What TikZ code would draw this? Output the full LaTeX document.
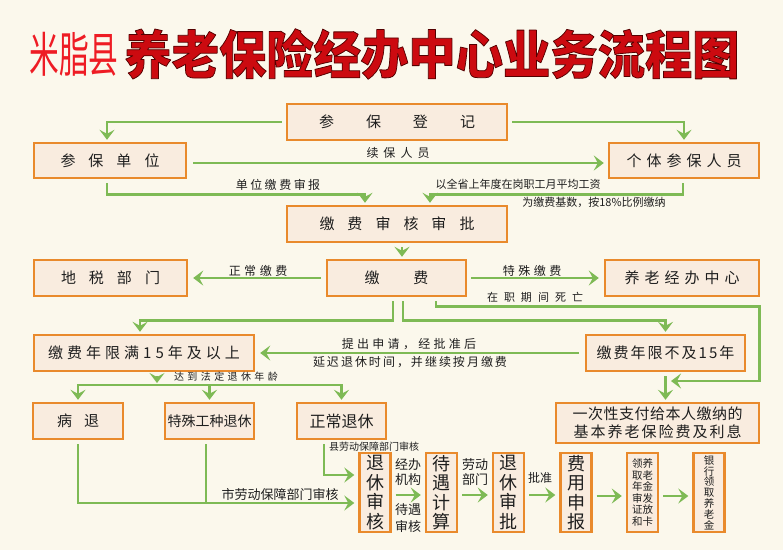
\documentclass[tikz,border=0pt]{standalone}
\usepackage{fontspec}
\setmainfont{Noto Sans CJK SC}
\newfontfamily\heavy{Noto Sans CJK SC}[BoldFeatures={FakeBold=1.5}]
\usetikzlibrary{arrows.meta}
\definecolor{bgc}{HTML}{FBF8EC}
\definecolor{boxfill}{HTML}{F9ECDF}
\definecolor{boxline}{HTML}{E98A2C}
\definecolor{grn}{HTML}{7EBA55}
\definecolor{txt}{HTML}{1E1E1E}
\definecolor{titlered}{HTML}{EE1C24}
\definecolor{titledark}{HTML}{CC0A10}
\makeatletter
\newcommand\LSp[2]{\begingroup\let\lsp@sep\relax\@tfor\lsp@c:=#2\do{\lsp@sep\lsp@c\def\lsp@sep{\kern#1}}\endgroup}
\makeatother
\newcommand\fs[2]{\fontsize{#1pt}{#2pt}\selectfont}
\newcommand\outlined[1]{\textcolor{titledark}{\special{pdf:literal direct 0.33 0 0 RG 2 Tr 2.2 w 1 j}#1\special{pdf:literal direct 0 Tr}}}
\tikzset{
  box/.style={draw=boxline, fill=boxfill, line width=2.4pt, inner sep=0pt, text=txt, font=\fs{15}{18}},
  vbox/.style={box, minimum width=31pt, minimum height=79pt, align=center, font=\fs{18}{19.5}},
  arr/.style={draw=grn, line width=2.6pt, -{Stealth[length=10pt,width=15pt,inset=4pt]}},
  ln/.style={draw=grn, line width=2.6pt},
  lab/.style={text=txt, inner sep=0pt, font=\fs{12}{14}},
}
\begin{document}
\begin{tikzpicture}[x=1pt,y=-1pt]
\fill[bgc] (0,0) rectangle (783,550);
\useasboundingbox (0,0) rectangle (783,550);

% title
\node[inner sep=0pt, text=titlered, font=\fs{48}{50}] (t1) at (74,54.5) {\scalebox{0.62}[1]{米脂县}};
\node[inner sep=0pt, font=\heavy\bfseries\fs{52}{54}] (t2) at (432,54) {\scalebox{0.91}[1]{\outlined{养老保险经办中心业务流程图}}};

% boxes
\node[box, minimum width=220pt, minimum height=36pt] (reg) at (397,122) {\LSp{32pt}{参保登记}};
\node[box, minimum width=152pt, minimum height=35pt] (unit) at (110,160.5) {\LSp{13pt}{参保单位}};
\node[box, minimum width=150pt, minimum height=35pt] (indiv) at (684,160.5) {\LSp{5pt}{个体参保人员}};
\node[box, minimum width=220pt, minimum height=36pt] (audit) at (397,224) {\LSp{13pt}{缴费审核审批}};
\node[box, minimum width=139pt, minimum height=36pt] (pay) at (396.5,278) {\LSp{34pt}{缴费}};
\node[box, minimum width=153pt, minimum height=36pt] (tax) at (110.5,278) {\LSp{13pt}{地税部门}};
\node[box, minimum width=154pt, minimum height=36pt] (center) at (682,278) {\LSp{5pt}{养老经办中心}};
\node[box, minimum width=220pt, minimum height=36pt] (full) at (144,353) {\LSp{4pt}{缴费年限满15年及以上}};
\node[box, minimum width=159pt, minimum height=36pt] (less) at (665.5,353) {\LSp{2pt}{缴费年限不及15年}};
\node[box, minimum width=203pt, minimum height=40pt, align=center, font=\fs{15}{18}] (lump) at (657.5,423) {\LSp{0.5pt}{一次性支付给本人缴纳的}\\\LSp{2pt}{基本养老保险费及利息}};
\node[box, minimum width=90pt, minimum height=36pt] (sick) at (78,421) {\LSp{12pt}{病退}};
\node[box, minimum width=89pt, minimum height=36pt, font=\fs{14}{16}] (special) at (209.5,421) {特殊工种退休};
\node[box, minimum width=89pt, minimum height=36pt, font=\fs{16}{18}] (normal) at (341.5,421) {正常退休};
\node[vbox] (v1) at (375,492.5) {退\\休\\审\\核};
\node[vbox] (v2) at (441.5,492.5) {待\\遇\\计\\算};
\node[vbox] (v3) at (508.5,492.5) {退\\休\\审\\批};
\node[vbox] (v4) at (576,492.5) {费\\用\\申\\报};
\node[vbox, font=\fs{10.5}{11.6}] (v5) at (642.5,492.5) {领养\\取老\\年金\\审发\\证放\\和卡};
\node[vbox, font=\fs{10.5}{10.8}] (v6) at (709,492.5) {银\\行\\领\\取\\养\\老\\金};

% connectors
\draw[arr, shorten <=4pt, shorten >=2pt] (reg.west) -| ([xshift=-3pt]unit.north);
\draw[arr, shorten <=4pt, shorten >=2pt] (reg.east) -| (indiv.north);
\draw[arr, shorten <=6pt, shorten >=4pt] ([yshift=-2.5pt]unit.east) -- ([yshift=-2.5pt]indiv.west);
\draw[arr, shorten <=4pt, shorten >=2pt] ([xshift=-3pt]unit.south) -- ++(0,15) -| ([xshift=-32pt]audit.north);
\draw[arr, shorten <=4pt, shorten >=2pt] ([xshift=-1pt]indiv.south) -- ++(0,15) -| ([xshift=33pt]audit.north);
\draw[arr, shorten <=4pt, shorten >=2pt] ([xshift=5pt]audit.south) -- ([xshift=5pt]audit.south |- pay.north);
\draw[arr, shorten <=5pt, shorten >=5pt] (pay.west) -- (tax.east);
\draw[arr, shorten <=4pt, shorten >=5pt] (pay.east) -- (center.west);
\draw[arr, shorten <=4pt, shorten >=2pt] ([xshift=-3.5pt]pay.south) -- ++(0,23) -| ([xshift=-4pt]full.north);
\draw[arr, shorten <=4pt, shorten >=2pt] ([xshift=6.5pt]pay.south) -- ++(0,23) -| (less.north);
\coordinate (deathjoin) at ([xshift=5.5pt]less.south |- 0,381);
\draw[arr, shorten <=4pt] ([xshift=39.5pt]pay.south) -- ++(0,9) -| ([xshift=-1pt]lump.east |- deathjoin) -- (deathjoin);
\draw[arr, shorten <=4pt, shorten >=2pt] (less.south) -- (less.south |- lump.north);
\draw[arr, shorten <=6pt, shorten >=5pt] (less.west) -- (full.east);
\coordinate (bL) at (sick.north |- 0,385);
\coordinate (bR) at (normal.north |- 0,385);
\draw[arr, shorten <=4pt] ([xshift=13pt]full.south) -- ([xshift=13pt]full.south |- 0,383);
\draw[ln, line cap=rect] (bL) -- (bR);
\draw[arr, shorten >=2pt] (bL) -- (sick.north);
\draw[arr, shorten >=2pt] (special.north |- bL) -- (special.north);
\draw[arr, shorten >=2pt] (bR) -- (normal.north);
\draw[arr, shorten <=4pt, shorten >=4pt] (sick.south) |- ([yshift=-10.5pt]v1.west);
\draw[ln, shorten <=4pt] ([xshift=-3.5pt]special.south) -- ([xshift=-3.5pt]special.south |- 0,503);
\draw[arr, shorten <=4pt, shorten >=4pt] ([xshift=-17.5pt]normal.south) |- ([yshift=17.5pt]v1.west);
\draw[arr, shorten <=4pt, shorten >=4pt] ([yshift=-2.5pt]v1.east) -- ([yshift=-2.5pt]v2.west);
\draw[arr, shorten <=4pt, shorten >=4pt] ([yshift=-2.5pt]v2.east) -- ([yshift=-2.5pt]v3.west);
\draw[arr, shorten <=4pt, shorten >=4pt] ([yshift=-2.5pt]v3.east) -- ([yshift=-2.5pt]v4.west);
\draw[arr, shorten <=4pt, shorten >=4pt] ([yshift=-3.5pt]v4.east) -- ([yshift=-3.5pt]v5.west);
\draw[arr, shorten <=4pt, shorten >=4pt] ([yshift=-3.5pt]v5.east) -- ([yshift=-3.5pt]v6.west);

% labels
\node[lab] (l1) at (398,153) {\LSp{5pt}{续保人员}};
\node[lab] (l2) at (278,185) {\LSp{2.5pt}{单位缴费审报}};
\node[lab, font=\fs{11}{13}] (l3) at (518,184) {以全省上年度在岗职工月平均工资};
\node[lab, font=\fs{11}{13}] (l4) at (594,202) {为缴费基数，按18\%比例缴纳};
\node[lab] (l5) at (258,271) {\LSp{3.5pt}{正常缴费}};
\node[lab] (l6) at (532,271) {\LSp{3.5pt}{特殊缴费}};
\node[lab, font=\fs{11}{13}] (l7) at (535,297) {\LSp{6pt}{在职期间死亡}};
\node[lab] (l8) at (409,344) {\LSp{3.3pt}{提出申请，经批准后}};
\node[lab] (l9) at (410,362) {\LSp{2pt}{延迟退休时间，并继续按月缴费}};
\node[lab, font=\fs{10}{12}] (l10) at (226,377) {\LSp{3.4pt}{达到法定退休年龄}};
\node[lab, font=\fs{13}{15}] (l11) at (280,494) {市劳动保障部门审核};
\node[lab, font=\fs{10}{12}] (l12) at (374,447) {县劳动保障部门审核};
\node[lab, align=center, font=\fs{13}{15.5}] (l13) at (408,472) {经办\\机构};
\node[lab, align=center, font=\fs{13}{17}] (l14) at (408,518) {待遇\\审核};
\node[lab, align=center, font=\fs{13}{15.5}] (l15) at (475,472) {劳动\\部门};
\node[lab, font=\fs{12}{14}] (l16) at (540,478) {批准};
\end{tikzpicture}
\end{document}
